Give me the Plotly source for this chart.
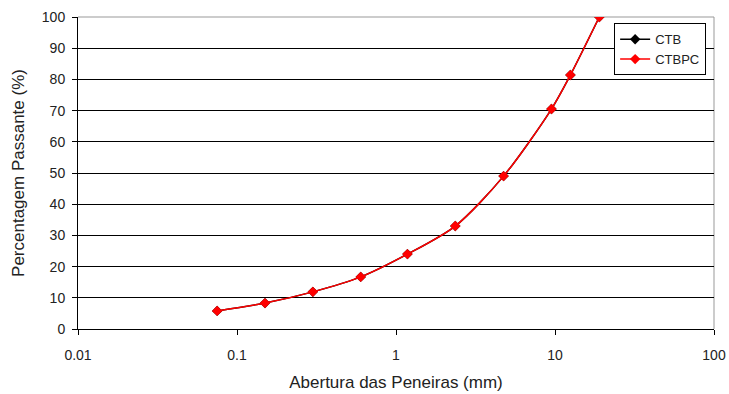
import plotly.graph_objects as go

sieve_mm = [0.075, 0.15, 0.3, 0.6, 1.18, 2.36, 4.75, 9.5, 12.5, 19.0]
ctb_pass = [5.8, 8.3, 11.9, 16.7, 24.0, 33.0, 49.0, 70.5, 81.4, 100.0]
ctbpc_pass = [5.8, 8.3, 11.9, 16.7, 24.0, 33.0, 49.0, 70.5, 81.4, 100.0]
x_ticks = [0.01, 0.1, 1, 10, 100]
x_tick_text = ["0.01", "0.1", "1", "10", "100"]
y_ticks = [0, 10, 20, 30, 40, 50, 60, 70, 80, 90, 100]

fig = go.Figure()
fig.add_trace(go.Scatter(x=sieve_mm, y=ctb_pass, name="CTB", mode="lines+markers",
                         line=dict(color="black", width=1.5, shape="spline", smoothing=0.8),
                         marker=dict(symbol="diamond", size=8, color="black")))
fig.add_trace(go.Scatter(x=sieve_mm, y=ctbpc_pass, name="CTBPC", mode="lines+markers",
                         line=dict(color="#ff0000", width=1.5, shape="spline", smoothing=0.8),
                         marker=dict(symbol="diamond", size=8, color="#ff0000")))

font = dict(family="Liberation Sans, Arial, sans-serif", size=14, color="#222")
fig.update_layout(
    width=729, height=394,
    margin=dict(l=78, r=15, t=17, b=65),
    paper_bgcolor="white", plot_bgcolor="white",
    font=font,
    showlegend=True,
    legend=dict(x=0.843, y=0.98, xanchor="left", yanchor="top",
                bordercolor="black", borderwidth=1, bgcolor="white",
                font=dict(family="Liberation Sans, Arial, sans-serif", size=13, color="#222"),
                itemwidth=30, tracegroupgap=4),
    xaxis=dict(type="log", range=[-2, 2], tickvals=x_ticks, ticktext=x_tick_text,
               automargin=False,
               showgrid=False, zeroline=False, showline=True, linecolor="black", linewidth=1,
               ticks="outside", ticklen=5, tickcolor="black", ticklabelstandoff=8,
               title=dict(text="Abertura das Peneiras (mm)", standoff=14)),
    yaxis=dict(range=[0, 100], tickvals=y_ticks, showgrid=True, gridcolor="black", gridwidth=1,
               automargin=False,
               zeroline=False, showline=True, linecolor="black", linewidth=1,
               ticks="outside", ticklen=5, tickcolor="black", ticklabelstandoff=4,
               title=dict(text="Percentagem Passante (%)", standoff=12)),
)
fig.add_shape(type="line", xref="paper", yref="paper", x0=0, x1=1, y0=1, y1=1,
              line=dict(color="#999", width=1), layer="below")
fig.add_shape(type="line", xref="paper", yref="paper", x0=1, x1=1, y0=0, y1=1,
              line=dict(color="#999", width=1), layer="below")
fig.write_html("out.html")
